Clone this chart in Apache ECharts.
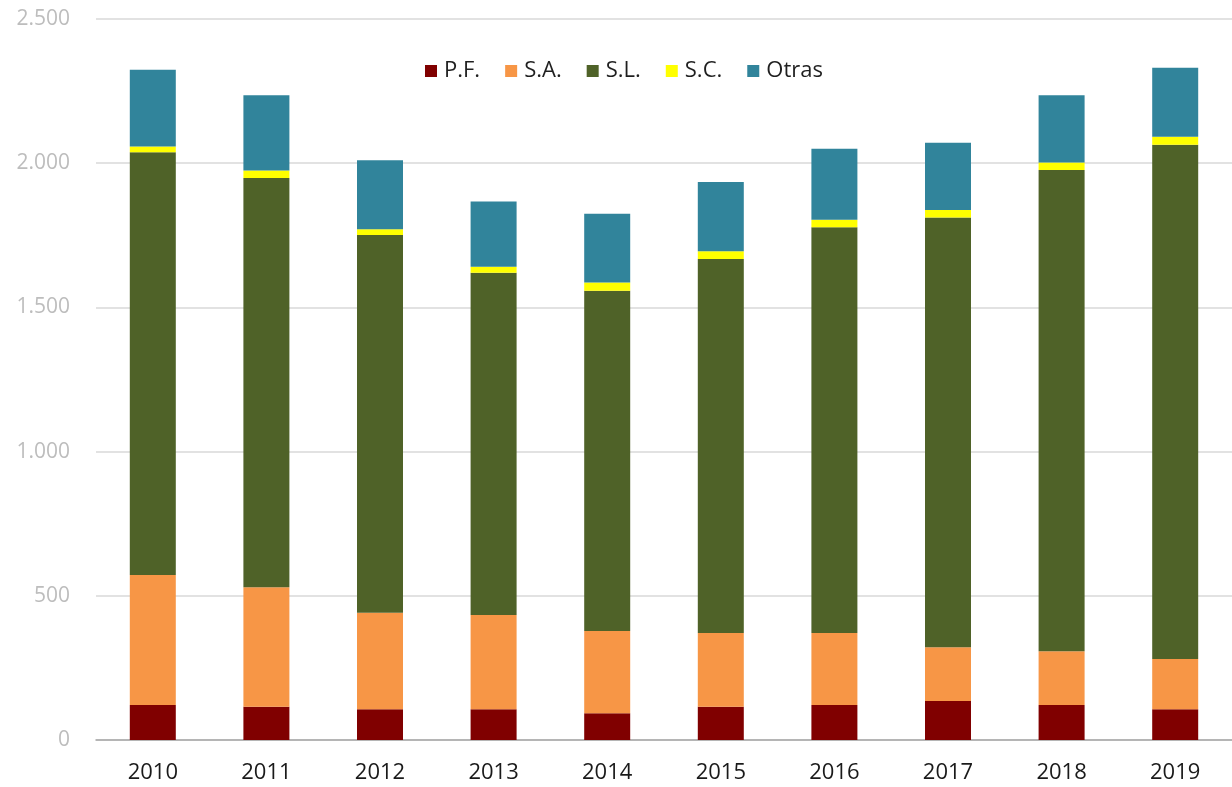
<!DOCTYPE html>
<html>
<head>
<meta charset="utf-8">
<title>Sociedades por forma jurídica 2010-2019</title>
<script src="https://cdn.jsdelivr.net/npm/echarts@6/dist/echarts.min.js"></script>
<style>
  html, body { margin: 0; padding: 0; background: #ffffff; }
  #chart { width: 1232px; height: 787px; }
</style>
</head>
<body>
<div id="chart"></div>
<script>
// Years on the category axis
const years = ['2010', '2011', '2012', '2013', '2014', '2015', '2016', '2017', '2018', '2019'];

// Stacked series, bottom to top
const pf    = [121, 115, 107, 107,  93, 115, 121, 135, 121, 107];
const sa    = [451, 415, 334, 326, 285, 256, 250, 187, 187, 174];
const sl    = [1466, 1419, 1310, 1187, 1180, 1297, 1407, 1490, 1668, 1783];
const sc    = [20, 26, 20, 21, 28, 27, 26, 26, 26, 28];
const otras = [266, 261, 239, 226, 239, 240, 246, 233, 234, 239];

// Value axis ticks
const yTicks = [0, 500, 1000, 1500, 2000, 2500];

const seriesDefs = [
  { name: 'P.F.',  data: pf,    color: '#800000' },
  { name: 'S.A.',  data: sa,    color: '#f79646' },
  { name: 'S.L.',  data: sl,    color: '#4f6228' },
  { name: 'S.C.',  data: sc,    color: '#ffff00' },
  { name: 'Otras', data: otras, color: '#31849b' }
];

const FONT = '"Open Sans", "Liberation Sans", sans-serif';

// 1.500 style thousands separator
function fmtThousands(v) {
  return String(v).replace(/\B(?=(\d{3})+(?!\d))/g, '.');
}

const chart = echarts.init(document.getElementById('chart'), null, { renderer: 'canvas' });

chart.setOption({
  animation: false,
  backgroundColor: '#ffffff',
  textStyle: { fontFamily: FONT },
  legend: {
    top: 55,
    left: 420,
    icon: 'rect',
    itemWidth: 12,
    itemHeight: 12,
    itemGap: 25,
    textStyle: { fontFamily: FONT, fontSize: 22, color: '#1f1f1f', padding: [0, 0, 0, 2] },
    data: seriesDefs.map(s => s.name)
  },
  grid: {
    left: 96,
    top: 19,
    width: 1138,
    height: 721,
    containLabel: false
  },
  xAxis: {
    type: 'category',
    data: years,
    axisLine: { show: true, lineStyle: { color: '#a6a6a6', width: 1.5 } },
    axisTick: { show: false },
    axisLabel: { color: '#1a1a1a', fontSize: 22, fontFamily: FONT, margin: 22 }
  },
  yAxis: {
    type: 'value',
    min: yTicks[0],
    max: yTicks[yTicks.length - 1],
    interval: yTicks[1] - yTicks[0],
    axisLine: { show: false },
    axisTick: { show: false },
    splitLine: { show: true, lineStyle: { color: '#d9d9d9', width: 1.5 } },
    axisLabel: {
      color: '#bdbdbd',
      fontSize: 21,
      fontFamily: FONT,
      margin: 26,
      formatter: fmtThousands
    }
  },
  series: seriesDefs.map(s => ({
    name: s.name,
    type: 'bar',
    stack: 'total',
    barWidth: 46,
    data: s.data,
    itemStyle: { color: s.color }
  }))
});
</script>
</body>
</html>
